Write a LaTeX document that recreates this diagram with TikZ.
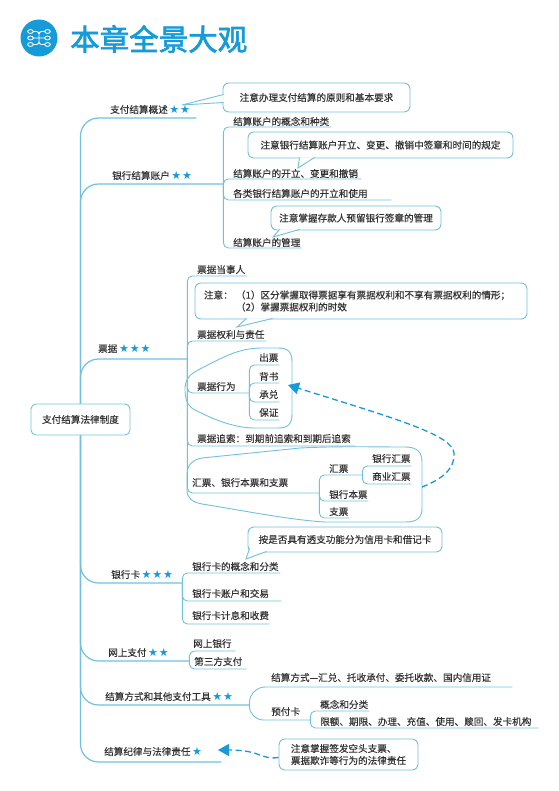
\documentclass[tikz,border=0pt]{standalone}
\usepackage{xcolor}
\usepackage{fontspec}
\setmainfont[FakeBold=0.25]{Noto Sans CJK SC}
\newfontfamily\titlefont[FakeBold=2.2]{Noto Sans CJK SC}
\newfontfamily\starfont[LetterSpace=8,Scale=1.15]{DejaVu Sans}
\usetikzlibrary{arrows.meta,calc}
\definecolor{lanLine}{RGB}{112,192,222}
\definecolor{lanDeep}{RGB}{22,155,216}
\definecolor{ziHei}{RGB}{50,50,50}
\newcommand{\xing}[1]{{\color{lanDeep}\starfont #1}}

\begin{document}
\begin{tikzpicture}[x=1pt,y=-1pt,
  every node/.style={text=ziHei,font=\fontsize{9.6}{12}\selectfont},
  lab/.style={anchor=south west,inner xsep=0pt,inner ysep=2.6pt,text height=8pt,text depth=0pt,text width=#1,align=left},
  top/.style={lab=#1,inner ysep=4.6pt},
  note/.style={draw=lanLine,fill=white,line width=0.9pt,rounded corners=6pt,inner sep=0pt,align=center},
  tail/.style={draw=lanLine,fill=white,line width=0.9pt,line join=miter},
  hull/.style={draw=lanLine,line width=0.9pt},
  trunk/.style={draw=lanLine,line width=1.2pt,rounded corners=18pt},
  twig/.style={draw=lanLine,line width=0.9pt,rounded corners=5pt},
  jump/.style={draw=lanDeep,line width=1.3pt,dash pattern=on 6pt off 3.5pt,-{Triangle[length=11pt,width=12pt,fill=lanDeep]}}]
  \useasboundingbox (0,0) rectangle (558,791);
  % title
  \node[circle,fill=lanDeep,minimum size=37pt,inner sep=0pt] (badge) at (39,38) {};
  \node[text=lanDeep,font=\fontsize{29.5}{32}\titlefont,anchor=west,inner sep=0pt] (title) at (70,39) {本章全景大观};
  \draw[white,line width=0.9pt,rounded corners=2.5pt] (33,31.5) -- (39,31.5) -- (39,44.5) -- (33,44.5)
    (45,31.5) -- (39,31.5) -- (39,44.5) -- (45,44.5) (33,38) -- (45,38);
  \foreach \x in {30.5,47.5} \foreach \y in {31.5,38,44.5}
    \draw[white,line width=0.9pt,fill=lanDeep] (\x,\y) ellipse (2.8pt and 1.9pt);

  \node[draw=lanLine,line width=0.9pt,rounded corners=5pt,minimum width=99pt,minimum height=31pt,inner sep=0pt] (root) at (80.5,419.5) {支付结算法律制度};

  % first level
  \node[top=86pt] (gaishu) at (110,118) {支付结算概述\,\xing{★★}};
  \node[top=111pt] (zhanghu) at (112,184) {银行结算账户\,\xing{★★}};
  \node[top=89pt,inner ysep=6.6pt] (piaoju) at (98,359) {票据\,\xing{★★★}};
  \node[top=71pt] (yhk) at (111,583) {银行卡\,\xing{★★★}};
  \node[top=81pt] (wangshang) at (108,661) {网上支付\,\xing{★★}};
  \node[top=144pt] (fangshi) at (105,705) {结算方式和其他支付工具\,\xing{★★}};
  \node[top=117pt,inner ysep=6.6pt] (jilv) at (104,762) {结算纪律与法律责任\,\xing{★}};
  \draw[trunk] (root.north) |- (gaishu.south east);
  \draw[trunk] (root.north) |- (zhanghu.south east);
  \draw[trunk] (root.north) |- (piaoju.south east);
  \draw[trunk] (root.south) |- (yhk.south east);
  \draw[trunk] (root.south) |- (wangshang.south east);
  \draw[trunk] (root.south) |- (fangshi.south east);
  \draw[trunk] (root.south) |- (jilv.south east);

  % bank account
  \node[lab=98pt,inner ysep=1.6pt] (zh1) at (233,127) {结算账户的概念和种类};
  \node[lab=128pt,inner ysep=1.6pt] (zh2) at (233,179) {结算账户的开立、变更和撤销};
  \node[lab=158pt] (zh3) at (233,200) {各类银行结算账户的开立和使用};
  \node[lab=68pt,inner ysep=1.6pt] (zh4) at (233,248) {结算账户的管理};
  \draw[twig] (zhanghu.south east) |- (zh1.south east);
  \draw[twig] (zhanghu.south east) |- (zh2.south east);
  \draw[twig] (zhanghu.south east) |- (zh3.south east);
  \draw[twig] (zhanghu.south east) |- (zh4.south east);

  % notes
  \coordinate (tipA) at (182,105);
  \coordinate (tipB) at (298,168);
  \coordinate (tipC) at (273,237);
  \coordinate (tipD) at (237,327);
  \coordinate (tipE) at (246,559);
  \node[note,minimum width=187pt,minimum height=29pt] (noteA) at (316.5,97.5) {注意办理支付结算的原则和基本要求};
  \draw[tail] ([xshift=1pt,yshift=3pt]noteA.west) -- (tipA) -- ([xshift=1pt,yshift=-5pt]noteA.west);
  \node[note,minimum width=265pt,minimum height=26pt] (noteB) at (380.5,145) {注意银行结算账户开立、变更、撤销中签章和时间的规定};
  \draw[tail] ([xshift=52pt,yshift=1pt]noteB.south west) -- (tipB) -- ([xshift=67pt,yshift=1pt]noteB.south west);
  \node[note,minimum width=170pt,minimum height=24pt] (noteC) at (356,218) {注意掌握存款人预留银行签章的管理};
  \draw[tail] ([xshift=9pt,yshift=1pt]noteC.south west) -- (tipC) -- ([xshift=29pt,yshift=1pt]noteC.south west);
  \node[note,minimum width=332pt,minimum height=36pt,text width=314pt,align=left] (noteD) at (361,301)
    {\makebox[32pt][l]{注意：}（1）区分掌握取得票据享有票据权利和不享有票据权利的情形；\\\makebox[32pt][l]{}（2）掌握票据权利的时效};
  \draw[tail] ([xshift=52pt,yshift=1pt]noteD.south west) -- (tipD) -- ([xshift=78pt,yshift=1pt]noteD.south west);
  \node[note,minimum width=194pt,minimum height=25pt] (noteE) at (345,539.5) {按是否具有透支功能分为信用卡和借记卡};
  \draw[tail] ([xshift=2pt,yshift=4pt]noteE.south west) -- (tipE) -- ([xshift=19pt,yshift=1pt]noteE.south west);

  % bills
  \node[lab=50pt] (pj1) at (197,276) {票据当事人};
  \node[lab=69pt] (pj2) at (197,341) {票据权利与责任};
  \node[lab=52pt] (pj3) at (197,393) {票据行为};
  \node[lab=158pt,inner ysep=3.6pt] (pj4) at (197,446) {票据追索：到期前追索和到期后追索};
  \node[lab=127pt,inner ysep=6.6pt] (pj5) at (192,493) {汇票、银行本票和支票};
  \draw[twig] (piaoju.south east) |- (pj1.south east);
  \draw[twig] (piaoju.south east) |- (pj2.south east);
  \draw[twig] (piaoju.south east) |- (pj3.south east);
  \draw[twig] (piaoju.south east) |- (pj4.south east);
  \draw[twig] (piaoju.south east) |- (pj5.south east);

  \node[lab=20pt,inner ysep=3.6pt] (xw1) at (259,365) {出票};
  \node[lab=20pt] (xw2) at (259,383) {背书};
  \node[lab=20pt,inner ysep=3.6pt] (xw3) at (259,402) {承兑};
  \node[lab=20pt,inner ysep=3.6pt] (xw4) at (259,420) {保证};
  \draw[twig] (pj3.south east) |- (xw1.south east);
  \draw[twig] (pj3.south east) |- (xw2.south east);
  \draw[twig] (pj3.south east) |- (xw3.south east);
  \draw[twig] (pj3.south east) |- (xw4.south east);

  \node[lab=33pt] (hp1) at (329,475) {汇票};
  \node[lab=39pt] (hp2) at (329,501) {银行本票};
  \node[lab=20pt] (hp3) at (329,518) {支票};
  \draw[twig] (pj5.south east) |- (hp1.south east);
  \draw[twig] (pj5.south east) |- (hp2.south east);
  \draw[twig] (pj5.south east) |- (hp3.south east);
  \node[lab=39pt,inner ysep=3.6pt] (hd1) at (372,466) {银行汇票};
  \node[lab=39pt,inner ysep=3.6pt] (hd2) at (372,484) {商业汇票};
  \draw[twig] (hp1.south east) |- (hd1.south east);
  \draw[twig] (hp1.south east) |- (hd2.south east);

  % hulls round the groups
  \draw[hull] (185,392) .. controls (184,378) and (192,373) .. (200,369) .. controls (225,356) and (240,348) .. (262,348)
    -- (278,348) .. controls (288,348) and (292,352) .. (292,362) -- (292,414) .. controls (292,424) and (288,428) .. (278,428)
    -- (255,428) .. controls (235,428) and (215,420) .. (197,411) .. controls (188,407) and (186,402) .. (185,392) -- cycle;
  \draw[hull] (187,475) .. controls (187,465) and (192,460) .. (202,458) -- (300,448) .. controls (340,446) and (370,447) .. (405,447)
    .. controls (417,447) and (422,452) .. (422,462) -- (422,508) .. controls (422,518) and (417,522) .. (405,522)
    -- (325,522) .. controls (290,520) and (240,510) .. (202,504) .. controls (192,502) and (187,498) .. (187,490) -- cycle;
  \coordinate (hullFrom) at (422,487);
  \coordinate (hullTo) at (288,385);
  \draw[jump] (hullFrom) .. controls (440,480) and (455,470) .. (454,453) .. controls (452,435) and (400,420) .. (hullTo);

  % bank card
  \node[lab=88pt] (k1) at (192,573) {银行卡的概念和分类};
  \node[lab=89pt,inner ysep=3.6pt] (k2) at (192,601) {银行卡账户和交易};
  \node[lab=77pt,inner ysep=4.6pt] (k3) at (192,624) {银行卡计息和收费};
  \draw[twig] (yhk.south east) |- (k1.south east);
  \draw[twig] (yhk.south east) |- (k2.south east);
  \draw[twig] (yhk.south east) |- (k3.south east);

  % online
  \node[lab=42pt,inner ysep=3.6pt] (w1) at (193,651) {网上银行};
  \node[lab=52pt,inner ysep=3.6pt] (w2) at (194,669) {第三方支付};
  \draw[twig] (wangshang.south east) |- (w1.south east);
  \draw[twig] (wangshang.south east) |- (w2.south east);

  % settlement
  \node[lab=241pt,inner ysep=5.6pt] (f1) at (271,687) {结算方式—汇兑、托收承付、委托收款、国内信用证};
  \node[lab=39pt,inner ysep=4.6pt] (f2) at (271,720) {预付卡};
  \draw[twig,rounded corners=16pt] (fangshi.south east) |- (f1.south east);
  \draw[twig,rounded corners=14pt] (fangshi.south east) |- (f2.south east);
  \node[lab=49pt] (y1) at (320,711) {概念和分类};
  \node[lab=218pt] (y2) at (320,728) {限额、期限、办理、充值、使用、赎回、发卡机构};
  \draw[twig] (f2.south east) |- (y1.south east);
  \draw[twig] (f2.south east) |- (y2.south east);

  % discipline
  \node[note,minimum width=139pt,minimum height=31pt,align=left] (noteF) at (348.5,754.5) {注意掌握签发空头支票、\\票据欺诈等行为的法律责任};
  \coordinate (jilvTo) at (218,750);
  \draw[jump] ([yshift=-3pt]noteF.west) .. controls (260,760) and (262,750) .. (jilvTo);
\end{tikzpicture}
\end{document}
